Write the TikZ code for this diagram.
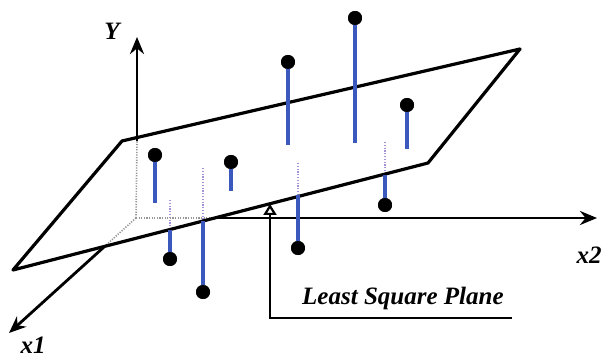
\documentclass[tikz,border=0pt]{standalone}
\usepackage{fontspec}
\setmainfont{Liberation Serif}
\usetikzlibrary{arrows.meta}
\definecolor{stemblue}{RGB}{59,89,188}
\definecolor{lav}{RGB}{165,145,215}
\definecolor{axgray}{RGB}{150,150,150}
\tikzset{
  edge/.style={line width=3.2pt, line join=round},
  axis/.style={line width=2.8pt},
  hidaxis/.style={line width=1.6pt, axgray, dash pattern=on 1.2pt off 1.4pt},
  stem/.style={line width=4.5pt, stemblue},
  hid/.style={line width=1.5pt, lav, dash pattern=on 1.2pt off 1.6pt},
  pt/.style={circle, fill=black, inner sep=0pt, minimum size=14pt},
  lbl/.style={font=\fontsize{25}{28}\selectfont\bfseries\itshape, inner sep=0pt},
  tip/.style={-{Stealth[length=17pt,width=14pt]}}
}
\begin{document}
\begin{tikzpicture}[x=1pt,y=-1pt]
\useasboundingbox (0,0) rectangle (605,358);
% plane corners
\coordinate (BL) at (122,141);
\coordinate (BR) at (520,49);
\coordinate (FR) at (428,163);
\coordinate (FL) at (13,270);
% axes
\coordinate (O) at (136,218);
\coordinate (Yb) at (137,141);
\coordinate (Yt) at (137,37);
\coordinate (X2s) at (212,218);
\coordinate (X2t) at (597,218);
\coordinate (X1s) at (104,247);
\coordinate (X1t) at (9,333);
% hidden stems (dotted)
\coordinate (h6a) at (385,142); \coordinate (h6b) at (385,175);
\coordinate (h7a) at (298,163); \coordinate (h7b) at (298,195);
\coordinate (h8a) at (170,200); \coordinate (h8b) at (170,230);
\coordinate (h9a) at (203,168); \coordinate (h9b) at (203,221);
\draw[hid] (h6a) -- (h6b);
\draw[hid] (h7a) -- (h7b);
\draw[hid] (h8a) -- (h8b);
\draw[hid] (h9a) -- (h9b);
% hidden axes
\draw[hidaxis] (O) -- (Yb);
\draw[hidaxis] (O) -- (X2s);
\draw[hidaxis] (O) -- (X1s);
% visible axes
\draw[axis, tip] (Yb) -- (Yt);
\draw[axis, tip] (X2s) -- (X2t);
\draw[axis, tip] (X1s) -- (X1t);
% plane
\draw[edge] (BL) -- (BR) -- (FR) -- (FL) -- cycle;
% points above plane
\node[pt] (p1) at (155,155) {};
\coordinate (s1) at (155,203);
\node[pt] (p2) at (231,162) {};
\coordinate (s2) at (231,191);
\node[pt] (p3) at (288,62) {};
\coordinate (s3) at (288,145);
\node[pt] (p4) at (355,18) {};
\coordinate (s4) at (355,143);
\node[pt] (p5) at (407,105) {};
\coordinate (s5) at (407,149);
% points below plane
\node[pt] (p6) at (385,205) {};
\node[pt] (p7) at (298,248) {};
\node[pt] (p8) at (170,259) {};
\node[pt] (p9) at (203,292) {};
\draw[stem] (p1.center) -- (s1);
\draw[stem] (p2.center) -- (s2);
\draw[stem] (p3.center) -- (s3);
\draw[stem] (p4.center) -- (s4);
\draw[stem] (p5.center) -- (s5);
\draw[stem] (p6.center) -- (h6b);
\draw[stem] (p7.center) -- (h7b);
\draw[stem] (p8.center) -- (h8b);
\draw[stem] (p9.center) -- (h9b);
\foreach \p in {p1,p2,p3,p4,p5,p6,p7,p8,p9} \node[pt] at (\p) {};
% labels
\node[lbl] (ly) at (112,31) {Y};
\node[lbl] (lx2) at (589,255) {x2};
\node[lbl] (lx1) at (33,345) {x1};
\node[lbl, anchor=south west] (lsq) at (302,310) {Least Square Plane};
% leader
\coordinate (la) at (270,204);
\coordinate (lc) at (270,318);
\coordinate (le) at (512,318);
\draw[line width=2.4pt, {Triangle[open,length=11pt,width=13pt,line width=2.2pt]}-, line join=miter] (la) -- (lc) -- (le);
\end{tikzpicture}
\end{document}
